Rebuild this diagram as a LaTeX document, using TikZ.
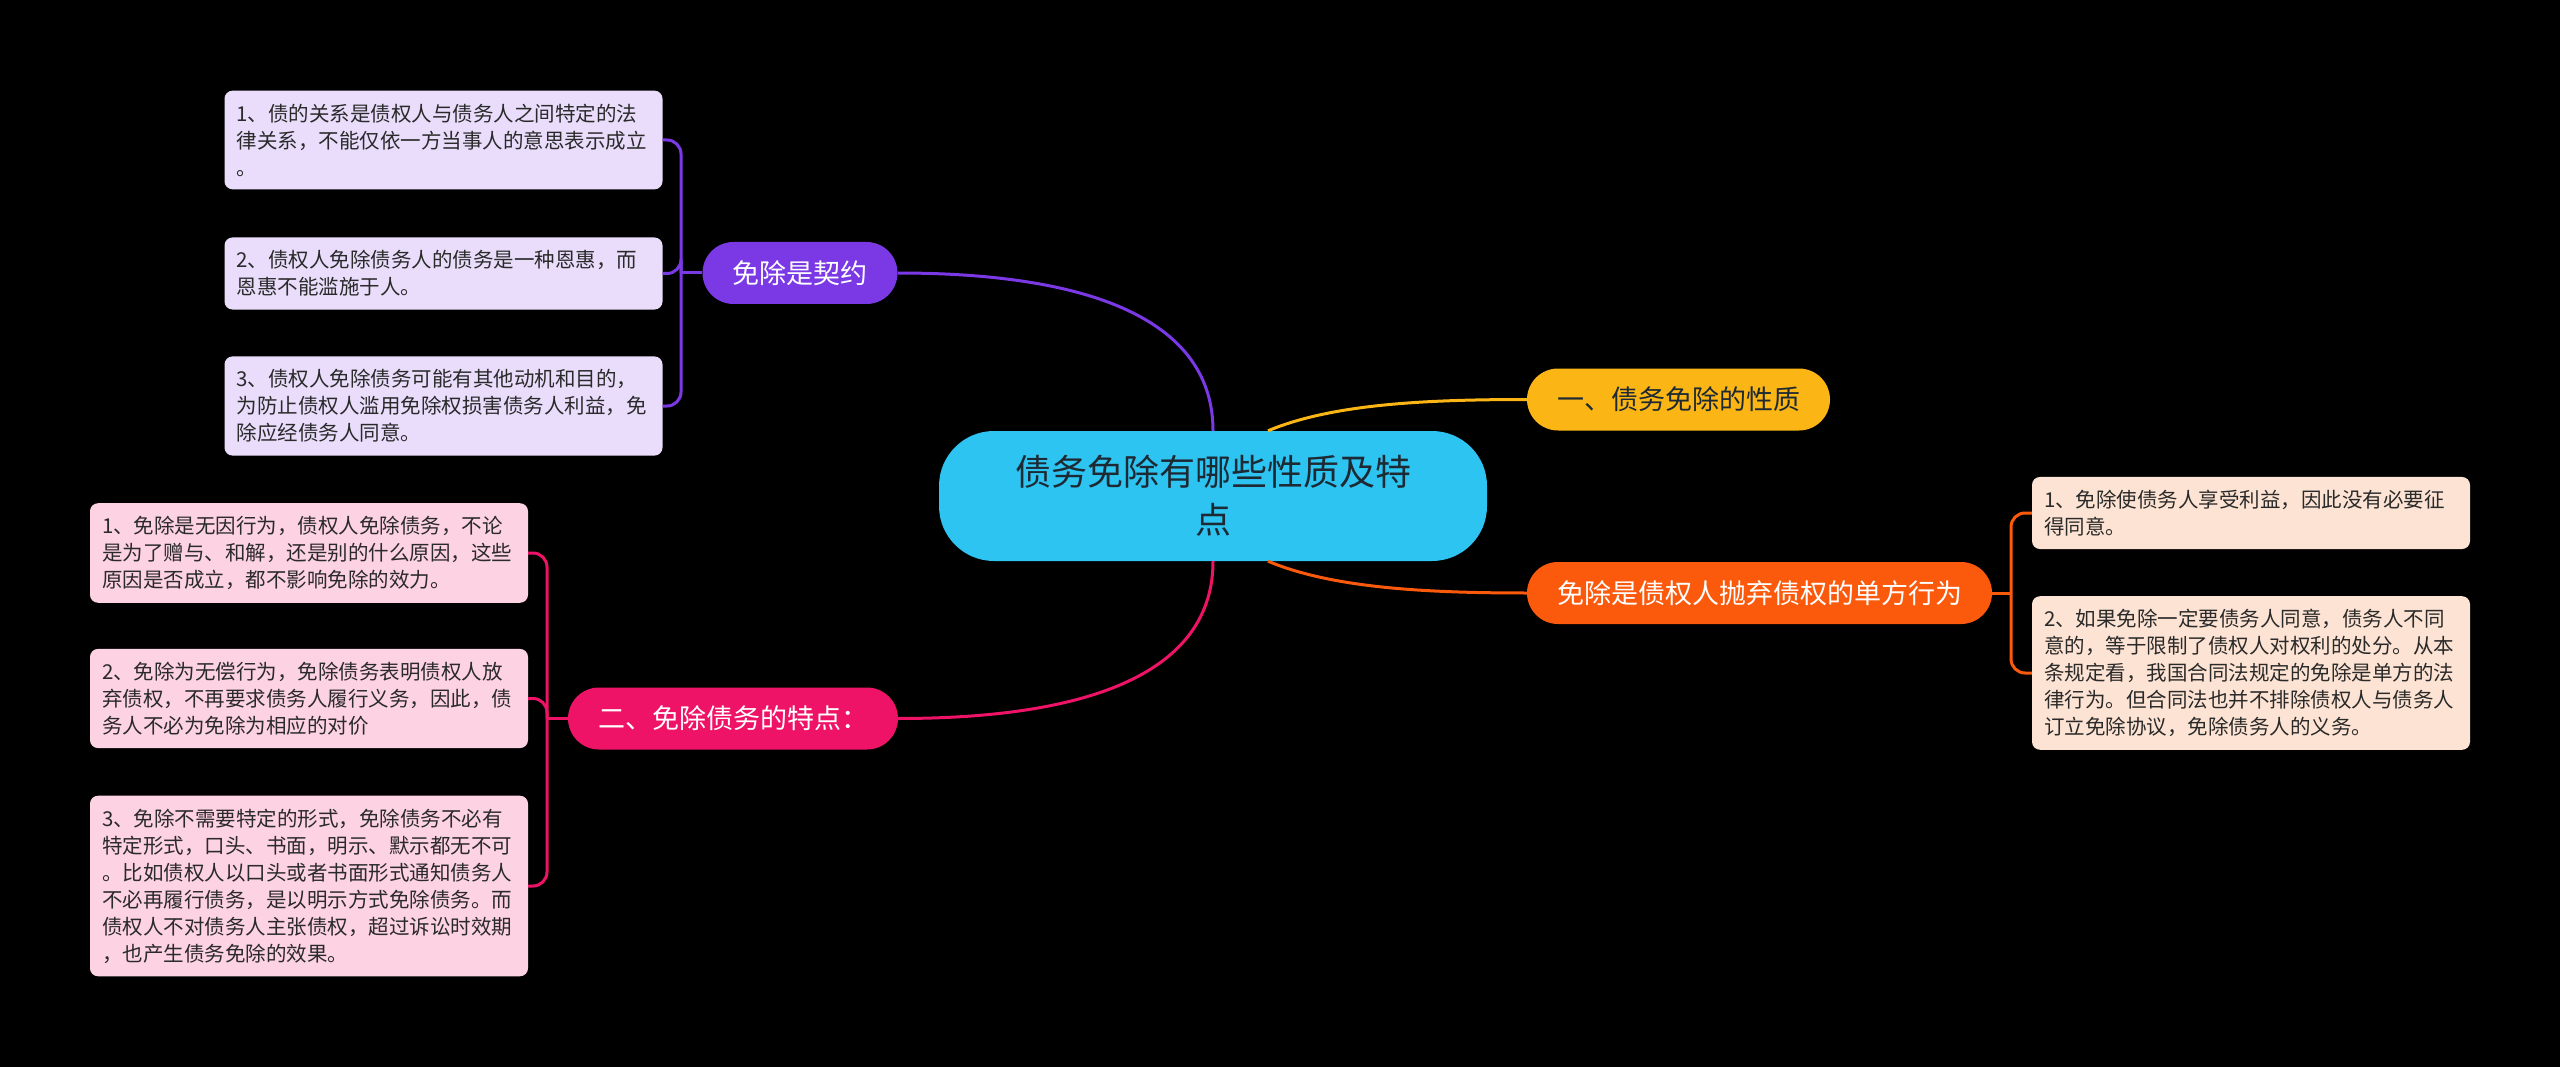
\documentclass[tikz,border=0pt]{standalone}
\usepackage{fontspec}
\setmainfont{Noto Sans CJK SC}
\definecolor{rootc}{HTML}{2EC4F2}
\definecolor{inkc}{HTML}{1E2A33}
\definecolor{leafink}{HTML}{2A2A2A}
\definecolor{purc}{HTML}{7B39E6}
\definecolor{purleaf}{HTML}{E9DDFB}
\definecolor{yelc}{HTML}{FBB514}
\definecolor{orac}{HTML}{FB5A0C}
\definecolor{oraleaf}{HTML}{FDE3D3}
\definecolor{pinc}{HTML}{EF1367}
\definecolor{pinleaf}{HTML}{FDD2E3}

\begin{document}
\begin{tikzpicture}[
    x=1pt,
    y=-1pt,
    hub/.style={fill=rootc, text=inkc, rounded corners=55pt, minimum width=548pt, minimum height=130pt, align=center, font=\fontsize{36}{48}\selectfont},
    topic/.style={rounded corners=31pt, minimum height=62pt, inner xsep=30pt, font=\fontsize{27}{32}\selectfont},
    leaf/.style={rounded corners=8pt, text width=414pt, align=left, inner xsep=12pt, inner ysep=13pt, text=leafink, font=\fontsize{20.5}{27}\selectfont},
    link/.style={line width=3pt},
    bk/.style={line width=3pt, rounded corners=14pt},
]
    \fill[black] (0,0) rectangle (2560,1067);
    \useasboundingbox (0,0) rectangle (2560,1067);

    \node[hub] (root) at (1213, 496) {债务免除有哪些性质及特\\点};
    \node[topic, fill=purc, text=white] (contract) at (800, 273) {免除是契约};
    \node[topic, fill=yelc, text=inkc] (nature) at (1678.5, 399.5) {一、债务免除的性质};
    \node[topic, fill=orac, text=white] (abandon) at (1759.5, 593) {免除是债权人抛弃债权的单方行为};
    \node[topic, fill=pinc, text=white] (traits) at (733, 718.5) {二、免除债务的特点：};

    \node[leaf, fill=purleaf] (c1) at (443.5, 140) {1、债的关系是债权人与债务人之间特定的法\\律关系，不能仅依一方当事人的意思表示成立\\。};
    \node[leaf, fill=purleaf] (c2) at (443.5, 273.5) {2、债权人免除债务人的债务是一种恩惠，而\\恩惠不能滥施于人。};
    \node[leaf, fill=purleaf] (c3) at (443.5, 406) {3、债权人免除债务可能有其他动机和目的，\\为防止债权人滥用免除权损害债务人利益，免\\除应经债务人同意。};

    \node[leaf, fill=pinleaf] (t1) at (309, 553) {1、免除是无因行为，债权人免除债务，不论\\是为了赠与、和解，还是别的什么原因，这些\\原因是否成立，都不影响免除的效力。};
    \node[leaf, fill=pinleaf] (t2) at (309, 698.5) {2、免除为无偿行为，免除债务表明债权人放\\弃债权，不再要求债务人履行义务，因此，债\\务人不必为免除为相应的对价};
    \node[leaf, fill=pinleaf] (t3) at (309, 886) {3、免除不需要特定的形式，免除债务不必有\\特定形式，口头、书面，明示、默示都无不可\\。比如债权人以口头或者书面形式通知债务人\\不必再履行债务，是以明示方式免除债务。而\\债权人不对债务人主张债权，超过诉讼时效期\\，也产生债务免除的效果。};

    \node[leaf, fill=oraleaf] (a1) at (2251, 513) {1、免除使债务人享受利益，因此没有必要征\\得同意。};
    \node[leaf, fill=oraleaf] (a2) at (2251, 673) {2、如果免除一定要债务人同意，债务人不同\\意的，等于限制了债权人对权利的处分。从本\\条规定看，我国合同法规定的免除是单方的法\\律行为。但合同法也并不排除债权人与债务人\\订立免除协议，免除债务人的义务。};

    \coordinate (cj) at (681, 273);
    \coordinate (tj) at (547, 718.5);
    \coordinate (aj) at (2011, 593);

    \draw[link, purc] (root.north) .. controls +(0,-105) and +(205,0) .. (contract.east);
    \draw[link, yelc] ([xshift=55pt]root.north) .. controls +(62,-26) and +(-107,0) .. (nature.west);
    \draw[link, orac] ([xshift=55pt]root.south) .. controls +(62,26) and +(-107,0) .. (abandon.west);
    \draw[link, pinc] (root.south) .. controls +(0,105) and +(205,0) .. (traits.east);

    \draw[link, purc] (contract.west) -- (cj);
    \draw[bk, purc] (cj) |- (c1.east);
    \draw[bk, purc] (cj) |- (c2.east);
    \draw[bk, purc] (cj) |- (c3.east);

    \draw[link, pinc] (traits.west) -- (tj);
    \draw[bk, pinc] (tj) |- (t1.east);
    \draw[bk, pinc] (tj) |- (t2.east);
    \draw[bk, pinc] (tj) |- (t3.east);

    \draw[link, orac] (abandon.east) -- (aj);
    \draw[bk, orac] (aj) |- (a1.west);
    \draw[bk, orac] (aj) |- (a2.west);
\end{tikzpicture}
\end{document}
